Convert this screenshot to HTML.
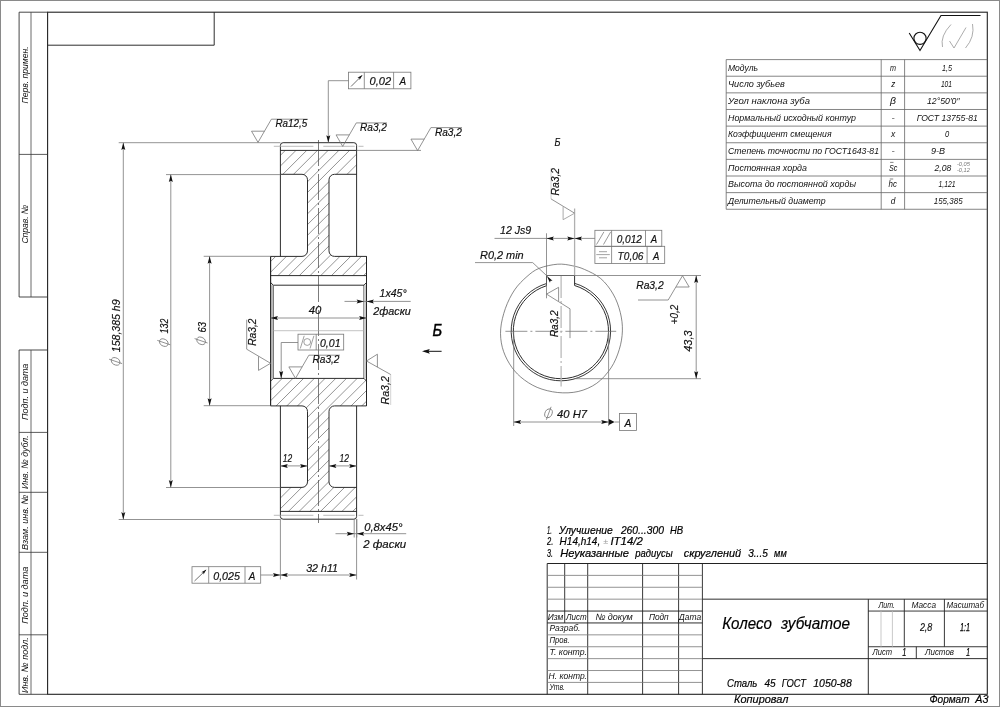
<!DOCTYPE html>
<html lang="ru">
<head>
<meta charset="utf-8">
<title>Колесо зубчатое</title>
<style>
html,body{margin:0;padding:0;background:#fff;}
body{width:1000px;height:707px;overflow:hidden;}
svg{display:block;will-change:transform;}
svg text{font-family:"Liberation Sans",sans-serif;}
</style>
</head>
<body>
<svg width="1000" height="707" viewBox="0 0 1000 707">
<rect x="0" y="0" width="1000" height="707" fill="#fff"/>
<rect x="0.5" y="0.5" width="999" height="706" fill="none" stroke="#8a8a8a" stroke-width="1"/>
<rect x="47.6" y="12.2" width="939.6999999999999" height="682.0999999999999" fill="none" stroke="#222" stroke-width="1.1"/>
<polyline points="214.2,12.2 214.2,45.2 47.6,45.2" fill="none" stroke="#222" stroke-width="0.95"/>
<polyline points="47.6,12.2 19.1,12.2 19.1,297 47.6,297" fill="none" stroke="#333" stroke-width="0.9"/>
<line x1="31.0" y1="12.2" x2="31.0" y2="297" stroke="#444" stroke-width="0.8" />
<line x1="19.1" y1="154.4" x2="47.6" y2="154.4" stroke="#333" stroke-width="0.8" />
<polyline points="47.6,350 19.1,350 19.1,694.3 47.6,694.3" fill="none" stroke="#333" stroke-width="0.9"/>
<line x1="31.0" y1="350" x2="31.0" y2="694.3" stroke="#444" stroke-width="0.8" />
<line x1="19.1" y1="432.4" x2="47.6" y2="432.4" stroke="#333" stroke-width="0.8" />
<line x1="19.1" y1="492.3" x2="47.6" y2="492.3" stroke="#333" stroke-width="0.8" />
<line x1="19.1" y1="552.3" x2="47.6" y2="552.3" stroke="#333" stroke-width="0.8" />
<line x1="19.1" y1="634.8" x2="47.6" y2="634.8" stroke="#333" stroke-width="0.8" />
<text x="0" y="0" font-size="9.5" fill="#111" font-style="italic" font-weight="normal" text-anchor="start" textLength="57" lengthAdjust="spacingAndGlyphs" transform="translate(27.6,103.4) rotate(-90)" >Перв. примен.</text>
<text x="0" y="0" font-size="9.5" fill="#111" font-style="italic" font-weight="normal" text-anchor="start" textLength="39" lengthAdjust="spacingAndGlyphs" transform="translate(27.6,243.6) rotate(-90)" >Справ. №</text>
<text x="0" y="0" font-size="9.5" fill="#111" font-style="italic" font-weight="normal" text-anchor="start" textLength="56.3" lengthAdjust="spacingAndGlyphs" transform="translate(27.6,420) rotate(-90)" >Подп. и дата</text>
<text x="0" y="0" font-size="9.5" fill="#111" font-style="italic" font-weight="normal" text-anchor="start" textLength="53.6" lengthAdjust="spacingAndGlyphs" transform="translate(27.6,489) rotate(-90)" >Инв. № дубл.</text>
<text x="0" y="0" font-size="9.5" fill="#111" font-style="italic" font-weight="normal" text-anchor="start" textLength="55.6" lengthAdjust="spacingAndGlyphs" transform="translate(27.6,550) rotate(-90)" >Взам. инв. №</text>
<text x="0" y="0" font-size="9.5" fill="#111" font-style="italic" font-weight="normal" text-anchor="start" textLength="57" lengthAdjust="spacingAndGlyphs" transform="translate(27.6,623.8) rotate(-90)" >Подп. и дата</text>
<text x="0" y="0" font-size="9.5" fill="#111" font-style="italic" font-weight="normal" text-anchor="start" textLength="55.7" lengthAdjust="spacingAndGlyphs" transform="translate(27.6,693) rotate(-90)" >Инв. № подл.</text>
<path d="M909.2,33 L920,50.5 L941,15.5 L980.5,15.5" fill="none" stroke="#111" stroke-width="1.1" />
<circle cx="920" cy="38.3" r="6.1" fill="none" stroke="#111" stroke-width="1.1"/>
<path d="M951,24.5 Q940,36 942.5,47" fill="none" stroke="#888" stroke-width="0.7" />
<path d="M972.5,24 Q975,37 965.5,48" fill="none" stroke="#888" stroke-width="0.7" />
<path d="M949.5,41 L954,48 L966,27.5" fill="none" stroke="#888" stroke-width="0.7" />
<line x1="726.2" y1="59.6" x2="987.3" y2="59.6" stroke="#666" stroke-width="0.8" />
<line x1="726.2" y1="76.23" x2="987.3" y2="76.23" stroke="#666" stroke-width="0.8" />
<line x1="726.2" y1="92.86" x2="987.3" y2="92.86" stroke="#666" stroke-width="0.8" />
<line x1="726.2" y1="109.49" x2="987.3" y2="109.49" stroke="#666" stroke-width="0.8" />
<line x1="726.2" y1="126.12" x2="987.3" y2="126.12" stroke="#666" stroke-width="0.8" />
<line x1="726.2" y1="142.75" x2="987.3" y2="142.75" stroke="#666" stroke-width="0.8" />
<line x1="726.2" y1="159.38" x2="987.3" y2="159.38" stroke="#666" stroke-width="0.8" />
<line x1="726.2" y1="176.01" x2="987.3" y2="176.01" stroke="#666" stroke-width="0.8" />
<line x1="726.2" y1="192.64" x2="987.3" y2="192.64" stroke="#666" stroke-width="0.8" />
<line x1="726.2" y1="209.27" x2="987.3" y2="209.27" stroke="#666" stroke-width="0.8" />
<line x1="726.2" y1="59.6" x2="726.2" y2="209.27" stroke="#666" stroke-width="0.8" />
<line x1="881.2" y1="59.6" x2="881.2" y2="209.27" stroke="#666" stroke-width="0.8" />
<line x1="904.6" y1="59.6" x2="904.6" y2="209.27" stroke="#666" stroke-width="0.8" />
<text x="728" y="70.8" font-size="9" fill="#111" font-style="italic" font-weight="normal" text-anchor="start" textLength="30" lengthAdjust="spacingAndGlyphs" >Модуль</text>
<text x="890" y="70.8" font-size="9" fill="#111" font-style="italic" font-weight="normal" text-anchor="start" textLength="6" lengthAdjust="spacingAndGlyphs" >m</text>
<text x="942" y="70.8" font-size="9" fill="#111" font-style="italic" font-weight="normal" text-anchor="start" textLength="10" lengthAdjust="spacingAndGlyphs" >1,5</text>
<text x="728" y="87.43" font-size="9" fill="#111" font-style="italic" font-weight="normal" text-anchor="start" textLength="56.8" lengthAdjust="spacingAndGlyphs" >Число зубьев</text>
<text x="891.3" y="87.43" font-size="9" fill="#111" font-style="italic" font-weight="normal" text-anchor="start" textLength="4" lengthAdjust="spacingAndGlyphs" >z</text>
<text x="940.9" y="87.43" font-size="9" fill="#111" font-style="italic" font-weight="normal" text-anchor="start" textLength="11.1" lengthAdjust="spacingAndGlyphs" >101</text>
<text x="728" y="104.06" font-size="9" fill="#111" font-style="italic" font-weight="normal" text-anchor="start" textLength="82" lengthAdjust="spacingAndGlyphs" >Угол наклона зуба</text>
<text x="890" y="104.06" font-size="9" fill="#111" font-style="italic" font-weight="normal" text-anchor="start" textLength="6" lengthAdjust="spacingAndGlyphs" >β</text>
<text x="927" y="104.06" font-size="9" fill="#111" font-style="italic" font-weight="normal" text-anchor="start" textLength="32.7" lengthAdjust="spacingAndGlyphs" >12°50′0′′</text>
<text x="728" y="120.69" font-size="9" fill="#111" font-style="italic" font-weight="normal" text-anchor="start" textLength="128" lengthAdjust="spacingAndGlyphs" >Нормальный исходный контур</text>
<text x="891.5" y="120.69" font-size="9" fill="#111" font-style="italic" font-weight="normal" text-anchor="start" textLength="3.2" lengthAdjust="spacingAndGlyphs" >-</text>
<text x="916.8" y="120.69" font-size="9" fill="#111" font-style="italic" font-weight="normal" text-anchor="start" textLength="60.9" lengthAdjust="spacingAndGlyphs" >ГОСТ 13755-81</text>
<text x="728" y="137.32" font-size="9" fill="#111" font-style="italic" font-weight="normal" text-anchor="start" textLength="103.5" lengthAdjust="spacingAndGlyphs" >Коэффициент смещения</text>
<text x="891" y="137.32" font-size="9" fill="#111" font-style="italic" font-weight="normal" text-anchor="start" textLength="4.3" lengthAdjust="spacingAndGlyphs" >x</text>
<text x="945" y="137.32" font-size="9" fill="#111" font-style="italic" font-weight="normal" text-anchor="start" textLength="4.2" lengthAdjust="spacingAndGlyphs" >0</text>
<text x="728" y="153.95" font-size="9" fill="#111" font-style="italic" font-weight="normal" text-anchor="start" textLength="151" lengthAdjust="spacingAndGlyphs" >Степень точности по ГОСТ1643-81</text>
<text x="891.5" y="153.95" font-size="9" fill="#111" font-style="italic" font-weight="normal" text-anchor="start" textLength="3.2" lengthAdjust="spacingAndGlyphs" >-</text>
<text x="930.9" y="153.95" font-size="9" fill="#111" font-style="italic" font-weight="normal" text-anchor="start" textLength="14.1" lengthAdjust="spacingAndGlyphs" >9-B</text>
<text x="728" y="170.58" font-size="9" fill="#111" font-style="italic" font-weight="normal" text-anchor="start" textLength="79" lengthAdjust="spacingAndGlyphs" >Постоянная хорда</text>
<text x="888.9" y="170.58" font-size="9" fill="#111" font-style="italic" font-weight="normal" text-anchor="start" textLength="8.4" lengthAdjust="spacingAndGlyphs" >Sc</text>
<line x1="890.1" y1="162.38000000000002" x2="893.5" y2="162.38000000000002" stroke="#333" stroke-width="0.6" />
<text x="934.6" y="170.58" font-size="9" fill="#111" font-style="italic" font-weight="normal" text-anchor="start" textLength="16.7" lengthAdjust="spacingAndGlyphs" >2,08</text>
<text x="728" y="187.21" font-size="9" fill="#111" font-style="italic" font-weight="normal" text-anchor="start" textLength="128" lengthAdjust="spacingAndGlyphs" >Высота до постоянной хорды</text>
<text x="888.6" y="187.21" font-size="9" fill="#111" font-style="italic" font-weight="normal" text-anchor="start" textLength="8.4" lengthAdjust="spacingAndGlyphs" >hc</text>
<line x1="889.8000000000001" y1="179.01000000000002" x2="893.2" y2="179.01000000000002" stroke="#333" stroke-width="0.6" />
<text x="938.5" y="187.21" font-size="9" fill="#111" font-style="italic" font-weight="normal" text-anchor="start" textLength="17.1" lengthAdjust="spacingAndGlyphs" >1,121</text>
<text x="728" y="203.84" font-size="9" fill="#111" font-style="italic" font-weight="normal" text-anchor="start" textLength="97.6" lengthAdjust="spacingAndGlyphs" >Делительный диаметр</text>
<text x="890.8" y="203.84" font-size="9" fill="#111" font-style="italic" font-weight="normal" text-anchor="start" textLength="4.6" lengthAdjust="spacingAndGlyphs" >d</text>
<text x="933.7" y="203.84" font-size="9" fill="#111" font-style="italic" font-weight="normal" text-anchor="start" textLength="28.9" lengthAdjust="spacingAndGlyphs" >155,385</text>
<text x="956.9" y="165.6" font-size="4.6" fill="#777" font-style="italic" font-weight="normal" text-anchor="start" textLength="13" lengthAdjust="spacingAndGlyphs" >-0,05</text>
<text x="956.9" y="172.4" font-size="4.6" fill="#777" font-style="italic" font-weight="normal" text-anchor="start" textLength="13" lengthAdjust="spacingAndGlyphs" >-0,12</text>
<defs>
<clipPath id="hc"><path d="M280.4,150.4 L356.6,150.4 L356.6,174.3 L334.5,174.3 A5.5,5.5 0 0 0 329.0,179.8 L329.0,250.89999999999998 A5.5,5.5 0 0 0 334.5,256.4 L366.5,256.4 L366.5,275.6 L270.6,275.6 L270.6,256.4 L302.0,256.4 A5.5,5.5 0 0 0 307.5,250.89999999999998 L307.5,179.8 A5.5,5.5 0 0 0 302.0,174.3 L280.4,174.3 Z M270.6,381.0 L273.3,378.4 L364.0,378.4 L366.5,381.0 L366.5,405.9 L334.5,405.9 A5.5,5.5 0 0 0 329.0,411.4 L329.0,481.9 A5.5,5.5 0 0 0 334.5,487.4 L356.6,487.4 L356.6,511.4 L280.4,511.4 L280.4,487.4 L302.0,487.4 A5.5,5.5 0 0 0 307.5,481.9 L307.5,411.4 A5.5,5.5 0 0 0 302.0,405.9 L270.6,405.9 Z"/></clipPath>
</defs>
<g clip-path="url(#hc)">
<line x1="252.14" y1="130" x2="-147.86" y2="530" stroke="#666" stroke-width="0.7" />
<line x1="262.85" y1="130" x2="-137.15" y2="530" stroke="#666" stroke-width="0.7" />
<line x1="273.56" y1="130" x2="-126.44" y2="530" stroke="#666" stroke-width="0.7" />
<line x1="284.27" y1="130" x2="-115.73" y2="530" stroke="#666" stroke-width="0.7" />
<line x1="294.98" y1="130" x2="-105.02" y2="530" stroke="#666" stroke-width="0.7" />
<line x1="305.69" y1="130" x2="-94.31" y2="530" stroke="#666" stroke-width="0.7" />
<line x1="316.4" y1="130" x2="-83.6" y2="530" stroke="#666" stroke-width="0.7" />
<line x1="327.11" y1="130" x2="-72.89" y2="530" stroke="#666" stroke-width="0.7" />
<line x1="337.82" y1="130" x2="-62.18" y2="530" stroke="#666" stroke-width="0.7" />
<line x1="348.53" y1="130" x2="-51.47" y2="530" stroke="#666" stroke-width="0.7" />
<line x1="359.24" y1="130" x2="-40.76" y2="530" stroke="#666" stroke-width="0.7" />
<line x1="369.95" y1="130" x2="-30.05" y2="530" stroke="#666" stroke-width="0.7" />
<line x1="380.66" y1="130" x2="-19.34" y2="530" stroke="#666" stroke-width="0.7" />
<line x1="391.37" y1="130" x2="-8.63" y2="530" stroke="#666" stroke-width="0.7" />
<line x1="402.08" y1="130" x2="2.08" y2="530" stroke="#666" stroke-width="0.7" />
<line x1="412.79" y1="130" x2="12.79" y2="530" stroke="#666" stroke-width="0.7" />
<line x1="423.5" y1="130" x2="23.5" y2="530" stroke="#666" stroke-width="0.7" />
<line x1="434.21" y1="130" x2="34.21" y2="530" stroke="#666" stroke-width="0.7" />
<line x1="444.92" y1="130" x2="44.92" y2="530" stroke="#666" stroke-width="0.7" />
<line x1="455.63" y1="130" x2="55.63" y2="530" stroke="#666" stroke-width="0.7" />
<line x1="466.34" y1="130" x2="66.34" y2="530" stroke="#666" stroke-width="0.7" />
<line x1="477.05" y1="130" x2="77.05" y2="530" stroke="#666" stroke-width="0.7" />
<line x1="487.76" y1="130" x2="87.76" y2="530" stroke="#666" stroke-width="0.7" />
<line x1="498.47" y1="130" x2="98.47" y2="530" stroke="#666" stroke-width="0.7" />
<line x1="509.18" y1="130" x2="109.18" y2="530" stroke="#666" stroke-width="0.7" />
<line x1="519.89" y1="130" x2="119.89" y2="530" stroke="#666" stroke-width="0.7" />
<line x1="530.6" y1="130" x2="130.6" y2="530" stroke="#666" stroke-width="0.7" />
<line x1="541.31" y1="130" x2="141.31" y2="530" stroke="#666" stroke-width="0.7" />
<line x1="552.02" y1="130" x2="152.02" y2="530" stroke="#666" stroke-width="0.7" />
<line x1="562.73" y1="130" x2="162.73" y2="530" stroke="#666" stroke-width="0.7" />
<line x1="573.44" y1="130" x2="173.44" y2="530" stroke="#666" stroke-width="0.7" />
<line x1="584.15" y1="130" x2="184.15" y2="530" stroke="#666" stroke-width="0.7" />
<line x1="594.86" y1="130" x2="194.86" y2="530" stroke="#666" stroke-width="0.7" />
<line x1="605.57" y1="130" x2="205.57" y2="530" stroke="#666" stroke-width="0.7" />
<line x1="616.28" y1="130" x2="216.28" y2="530" stroke="#666" stroke-width="0.7" />
<line x1="626.99" y1="130" x2="226.99" y2="530" stroke="#666" stroke-width="0.7" />
<line x1="637.7" y1="130" x2="237.7" y2="530" stroke="#666" stroke-width="0.7" />
<line x1="648.41" y1="130" x2="248.41" y2="530" stroke="#666" stroke-width="0.7" />
<line x1="659.12" y1="130" x2="259.12" y2="530" stroke="#666" stroke-width="0.7" />
<line x1="669.83" y1="130" x2="269.83" y2="530" stroke="#666" stroke-width="0.7" />
<line x1="680.54" y1="130" x2="280.54" y2="530" stroke="#666" stroke-width="0.7" />
<line x1="691.25" y1="130" x2="291.25" y2="530" stroke="#666" stroke-width="0.7" />
<line x1="701.96" y1="130" x2="301.96" y2="530" stroke="#666" stroke-width="0.7" />
<line x1="712.67" y1="130" x2="312.67" y2="530" stroke="#666" stroke-width="0.7" />
<line x1="723.38" y1="130" x2="323.38" y2="530" stroke="#666" stroke-width="0.7" />
<line x1="734.09" y1="130" x2="334.09" y2="530" stroke="#666" stroke-width="0.7" />
<line x1="744.8" y1="130" x2="344.8" y2="530" stroke="#666" stroke-width="0.7" />
<line x1="755.51" y1="130" x2="355.51" y2="530" stroke="#666" stroke-width="0.7" />
<line x1="766.22" y1="130" x2="366.22" y2="530" stroke="#666" stroke-width="0.7" />
<line x1="776.93" y1="130" x2="376.93" y2="530" stroke="#666" stroke-width="0.7" />
<line x1="787.64" y1="130" x2="387.64" y2="530" stroke="#666" stroke-width="0.7" />
<line x1="798.35" y1="130" x2="398.35" y2="530" stroke="#666" stroke-width="0.7" />
<line x1="809.06" y1="130" x2="409.06" y2="530" stroke="#666" stroke-width="0.7" />
<line x1="819.77" y1="130" x2="419.77" y2="530" stroke="#666" stroke-width="0.7" />
<line x1="830.48" y1="130" x2="430.48" y2="530" stroke="#666" stroke-width="0.7" />
<line x1="841.19" y1="130" x2="441.19" y2="530" stroke="#666" stroke-width="0.7" />
<line x1="851.9" y1="130" x2="451.9" y2="530" stroke="#666" stroke-width="0.7" />
<line x1="862.61" y1="130" x2="462.61" y2="530" stroke="#666" stroke-width="0.7" />
</g>
<path d="M280.4,256.4 L280.4,145.39999999999998 A2.7,2.7 0 0 1 283.09999999999997,142.7 L353.90000000000003,142.7 A2.7,2.7 0 0 1 356.6,145.39999999999998 L356.6,256.4" fill="none" stroke="#222" stroke-width="0.95" />
<path d="M280.4,405.9 L280.4,516.5 A2.7,2.7 0 0 0 283.09999999999997,519.2 L353.90000000000003,519.2 A2.7,2.7 0 0 0 356.6,516.5 L356.6,405.9" fill="none" stroke="#222" stroke-width="0.95" />
<line x1="280.4" y1="150.4" x2="356.6" y2="150.4" stroke="#222" stroke-width="0.95" />
<line x1="280.4" y1="511.4" x2="356.6" y2="511.4" stroke="#222" stroke-width="0.95" />
<path d="M280.4,174.3 L302.0,174.3 A5.5,5.5 0 0 1 307.5,179.8 L307.5,250.89999999999998 A5.5,5.5 0 0 1 302.0,256.4 L270.6,256.4" fill="none" stroke="#222" stroke-width="0.95" />
<path d="M356.6,174.3 L334.5,174.3 A5.5,5.5 0 0 0 329.0,179.8 L329.0,250.89999999999998 A5.5,5.5 0 0 0 334.5,256.4 L366.5,256.4" fill="none" stroke="#222" stroke-width="0.95" />
<path d="M280.4,487.4 L302.0,487.4 A5.5,5.5 0 0 0 307.5,481.9 L307.5,411.4 A5.5,5.5 0 0 0 302.0,405.9 L270.6,405.9" fill="none" stroke="#222" stroke-width="0.95" />
<path d="M356.6,487.4 L334.5,487.4 A5.5,5.5 0 0 1 329.0,481.9 L329.0,411.4 A5.5,5.5 0 0 1 334.5,405.9 L366.5,405.9" fill="none" stroke="#222" stroke-width="0.95" />
<line x1="270.6" y1="256.4" x2="270.6" y2="405.9" stroke="#222" stroke-width="0.95" />
<line x1="366.5" y1="256.4" x2="366.5" y2="405.9" stroke="#222" stroke-width="0.95" />
<line x1="270.6" y1="275.6" x2="366.5" y2="275.6" stroke="#222" stroke-width="0.95" />
<path d="M270.6,282.5 L273.3,285.2 L364.0,285.2 L366.5,282.5" fill="none" stroke="#222" stroke-width="0.95" />
<path d="M270.6,381.09999999999997 L273.3,378.4 L364.0,378.4 L366.5,381.09999999999997" fill="none" stroke="#222" stroke-width="0.95" />
<line x1="273.3" y1="285.2" x2="273.3" y2="378.4" stroke="#222" stroke-width="0.9" />
<line x1="364.0" y1="285.2" x2="364.0" y2="378.4" stroke="#222" stroke-width="0.9" />
<rect x="270.6" y="285.2" width="2.7" height="93.19999999999999" fill="#bbb"/>
<rect x="364.0" y="285.2" width="2.5" height="93.19999999999999" fill="#ccc"/>
<line x1="270.6" y1="256.4" x2="270.6" y2="405.9" stroke="#222" stroke-width="0.95" />
<line x1="366.5" y1="256.4" x2="366.5" y2="405.9" stroke="#222" stroke-width="0.95" />
<line x1="273.8" y1="146.3" x2="313.4" y2="146.3" stroke="#aaa" stroke-width="0.8" />
<line x1="323.3" y1="146.3" x2="354.7" y2="146.3" stroke="#aaa" stroke-width="0.8" />
<line x1="358.5" y1="146.3" x2="363.5" y2="146.3" stroke="#aaa" stroke-width="0.8" />
<line x1="273.8" y1="515.3" x2="313.4" y2="515.3" stroke="#aaa" stroke-width="0.8" />
<line x1="323.3" y1="515.3" x2="354.7" y2="515.3" stroke="#aaa" stroke-width="0.8" />
<line x1="358.5" y1="515.3" x2="363.5" y2="515.3" stroke="#aaa" stroke-width="0.8" />
<line x1="318.5" y1="140" x2="318.5" y2="523" stroke="#444" stroke-width="0.7" stroke-dasharray="26 3 2 3"/>
<line x1="273.3" y1="330.7" x2="364.0" y2="330.7" stroke="#aaa" stroke-width="0.7" />
<line x1="118.7" y1="142.7" x2="280.4" y2="142.7" stroke="#777" stroke-width="0.8" />
<line x1="118.7" y1="519.5" x2="280.4" y2="519.5" stroke="#777" stroke-width="0.8" />
<line x1="123.3" y1="142.7" x2="123.3" y2="519.5" stroke="#777" stroke-width="0.8" />
<polygon points="123.30,142.70 125.30,150.10 123.30,148.80 121.30,150.10" fill="#111"/>
<polygon points="123.30,519.50 121.30,512.10 123.30,513.40 125.30,512.10" fill="#111"/>
<line x1="166" y1="174.6" x2="280.4" y2="174.6" stroke="#777" stroke-width="0.8" />
<line x1="166" y1="487.5" x2="280.4" y2="487.5" stroke="#777" stroke-width="0.8" />
<line x1="170.8" y1="174.6" x2="170.8" y2="487.5" stroke="#777" stroke-width="0.8" />
<polygon points="170.80,174.60 172.80,182.00 170.80,180.70 168.80,182.00" fill="#111"/>
<polygon points="170.80,487.50 168.80,480.10 170.80,481.40 172.80,480.10" fill="#111"/>
<line x1="203.7" y1="256.3" x2="270.6" y2="256.3" stroke="#777" stroke-width="0.8" />
<line x1="203.7" y1="405.7" x2="270.6" y2="405.7" stroke="#777" stroke-width="0.8" />
<line x1="209.6" y1="256.3" x2="209.6" y2="405.7" stroke="#777" stroke-width="0.8" />
<polygon points="209.60,256.30 211.60,263.70 209.60,262.40 207.60,263.70" fill="#111"/>
<polygon points="209.60,405.70 207.60,398.30 209.60,399.60 211.60,398.30" fill="#111"/>
<text x="0" y="0" font-size="11.2" fill="#111" font-style="italic" font-weight="normal" text-anchor="start" textLength="52.8" lengthAdjust="spacingAndGlyphs" transform="translate(119.9,352.2) rotate(-90)"  stroke="#111" stroke-width="0.18">158,385 h9</text>
<g transform="translate(115.6,361.4) rotate(-90)"><ellipse cx="0" cy="0" rx="3.655" ry="4.3" fill="none" stroke="#777" stroke-width="0.8" transform="skewX(-15)"/><line x1="-2.2" y1="6.5" x2="2.2" y2="-6.5" stroke="#777" stroke-width="0.8"/></g>
<text x="0" y="0" font-size="11.2" fill="#111" font-style="italic" font-weight="normal" text-anchor="start" textLength="14.7" lengthAdjust="spacingAndGlyphs" transform="translate(168,333.4) rotate(-90)"  stroke="#111" stroke-width="0.18">132</text>
<g transform="translate(163.8,342.6) rotate(-90)"><ellipse cx="0" cy="0" rx="3.655" ry="4.3" fill="none" stroke="#777" stroke-width="0.8" transform="skewX(-15)"/><line x1="-2.2" y1="6.5" x2="2.2" y2="-6.5" stroke="#777" stroke-width="0.8"/></g>
<text x="0" y="0" font-size="11.2" fill="#111" font-style="italic" font-weight="normal" text-anchor="start" textLength="10.5" lengthAdjust="spacingAndGlyphs" transform="translate(206.1,332.5) rotate(-90)"  stroke="#111" stroke-width="0.18">63</text>
<g transform="translate(201.1,340.8) rotate(-90)"><ellipse cx="0" cy="0" rx="3.655" ry="4.3" fill="none" stroke="#777" stroke-width="0.8" transform="skewX(-15)"/><line x1="-2.2" y1="6.5" x2="2.2" y2="-6.5" stroke="#777" stroke-width="0.8"/></g>
<line x1="270.6" y1="318" x2="366.5" y2="318" stroke="#777" stroke-width="0.8" />
<polygon points="270.60,318.00 278.00,316.00 276.70,318.00 278.00,320.00" fill="#111"/>
<polygon points="366.50,318.00 359.10,320.00 360.40,318.00 359.10,316.00" fill="#111"/>
<text x="308.7" y="314.3" font-size="11.3" fill="#111" font-style="italic" font-weight="normal" text-anchor="start" textLength="12.6" lengthAdjust="spacingAndGlyphs"  stroke="#111" stroke-width="0.18">40</text>
<line x1="344.5" y1="301.4" x2="410.7" y2="301.4" stroke="#777" stroke-width="0.8" />
<polygon points="364.00,301.40 356.60,303.40 357.90,301.40 356.60,299.40" fill="#111"/>
<polygon points="366.50,301.40 373.90,299.40 372.60,301.40 373.90,303.40" fill="#111"/>
<text x="379.6" y="297.2" font-size="11.2" fill="#111" font-style="italic" font-weight="normal" text-anchor="start" textLength="27" lengthAdjust="spacingAndGlyphs"  stroke="#111" stroke-width="0.18">1x45°</text>
<text x="373.3" y="314.5" font-size="11.2" fill="#111" font-style="italic" font-weight="normal" text-anchor="start" textLength="37.4" lengthAdjust="spacingAndGlyphs"  stroke="#111" stroke-width="0.18">2фаски</text>
<line x1="280.4" y1="465.9" x2="307.5" y2="465.9" stroke="#777" stroke-width="0.8" />
<polygon points="280.40,465.90 287.80,463.90 286.50,465.90 287.80,467.90" fill="#111"/>
<polygon points="307.50,465.90 300.10,467.90 301.40,465.90 300.10,463.90" fill="#111"/>
<line x1="329.0" y1="465.9" x2="356.6" y2="465.9" stroke="#777" stroke-width="0.8" />
<polygon points="329.00,465.90 336.40,463.90 335.10,465.90 336.40,467.90" fill="#111"/>
<polygon points="356.60,465.90 349.20,467.90 350.50,465.90 349.20,463.90" fill="#111"/>
<text x="282.7" y="462" font-size="11.2" fill="#111" font-style="italic" font-weight="normal" text-anchor="start" textLength="9.4" lengthAdjust="spacingAndGlyphs"  stroke="#111" stroke-width="0.18">12</text>
<text x="339.6" y="462" font-size="11.2" fill="#111" font-style="italic" font-weight="normal" text-anchor="start" textLength="9.4" lengthAdjust="spacingAndGlyphs"  stroke="#111" stroke-width="0.18">12</text>
<line x1="354.2" y1="519" x2="354.2" y2="537.5" stroke="#777" stroke-width="0.8" />
<line x1="356.8" y1="519" x2="356.8" y2="537.5" stroke="#777" stroke-width="0.8" />
<line x1="335.5" y1="533.7" x2="406.2" y2="533.7" stroke="#777" stroke-width="0.8" />
<polygon points="354.20,533.70 346.80,535.70 348.10,533.70 346.80,531.70" fill="#111"/>
<polygon points="356.80,533.70 364.20,531.70 362.90,533.70 364.20,535.70" fill="#111"/>
<text x="364.2" y="530.5" font-size="11.2" fill="#111" font-style="italic" font-weight="normal" text-anchor="start" textLength="38.3" lengthAdjust="spacingAndGlyphs"  stroke="#111" stroke-width="0.18">0,8x45°</text>
<text x="363.2" y="547.5" font-size="11.2" fill="#111" font-style="italic" font-weight="normal" text-anchor="start" textLength="43" lengthAdjust="spacingAndGlyphs"  stroke="#111" stroke-width="0.18">2 фаски</text>
<line x1="280.4" y1="519.2" x2="280.4" y2="579.5" stroke="#777" stroke-width="0.8" />
<line x1="356.6" y1="519.2" x2="356.6" y2="579.5" stroke="#777" stroke-width="0.8" />
<line x1="260.7" y1="575" x2="356.6" y2="575" stroke="#777" stroke-width="0.8" />
<polygon points="280.40,575.00 273.00,577.00 274.30,575.00 273.00,573.00" fill="#111"/>
<polygon points="280.40,575.00 287.80,573.00 286.50,575.00 287.80,577.00" fill="#111"/>
<polygon points="356.60,575.00 349.20,577.00 350.50,575.00 349.20,573.00" fill="#111"/>
<text x="306.2" y="571.7" font-size="11.2" fill="#111" font-style="italic" font-weight="normal" text-anchor="start" textLength="31.8" lengthAdjust="spacingAndGlyphs"  stroke="#111" stroke-width="0.18">32 h11</text>
<rect x="348.5" y="72.2" width="62.4" height="16.6" fill="none" stroke="#777" stroke-width="0.8"/>
<line x1="364.3" y1="72.2" x2="364.3" y2="88.8" stroke="#777" stroke-width="0.8" />
<line x1="393.6" y1="72.2" x2="393.6" y2="88.8" stroke="#777" stroke-width="0.8" />
<line x1="351" y1="86.5" x2="362" y2="75.5" stroke="#333" stroke-width="0.7" />
<polygon points="362.40,75.10 359.64,80.12 359.43,78.07 357.38,77.86" fill="#111"/>
<text x="369.6" y="85.2" font-size="11.2" fill="#111" font-style="italic" font-weight="normal" text-anchor="start" textLength="21.6" lengthAdjust="spacingAndGlyphs"  stroke="#111" stroke-width="0.18">0,02</text>
<text x="399.6" y="85.2" font-size="11.2" fill="#111" font-style="italic" font-weight="normal" text-anchor="start" textLength="6.6" lengthAdjust="spacingAndGlyphs"  stroke="#111" stroke-width="0.18">A</text>
<polyline points="348.5,80.7 328.3,80.7 328.3,142.5" fill="none" stroke="#777" stroke-width="0.8"/>
<polygon points="328.30,142.60 326.30,135.20 328.30,136.50 330.30,135.20" fill="#111"/>
<rect x="192" y="566.7" width="68.7" height="16.5" fill="none" stroke="#777" stroke-width="0.8"/>
<line x1="208.7" y1="566.7" x2="208.7" y2="583.2" stroke="#777" stroke-width="0.8" />
<line x1="245" y1="566.7" x2="245" y2="583.2" stroke="#777" stroke-width="0.8" />
<line x1="194.5" y1="581" x2="206" y2="570" stroke="#333" stroke-width="0.7" />
<polygon points="206.40,569.60 203.53,574.56 203.36,572.50 201.32,572.25" fill="#111"/>
<text x="213.2" y="579.5" font-size="11.2" fill="#111" font-style="italic" font-weight="normal" text-anchor="start" textLength="26.8" lengthAdjust="spacingAndGlyphs"  stroke="#111" stroke-width="0.18">0,025</text>
<text x="248.7" y="579.5" font-size="11.2" fill="#111" font-style="italic" font-weight="normal" text-anchor="start" textLength="6.6" lengthAdjust="spacingAndGlyphs"  stroke="#111" stroke-width="0.18">A</text>
<rect x="298" y="334.2" width="45.7" height="15.8" fill="none" stroke="#777" stroke-width="0.8"/>
<line x1="316.2" y1="334.2" x2="316.2" y2="350" stroke="#777" stroke-width="0.8" />
<g stroke="#777" stroke-width="0.7" fill="none"><ellipse cx="307.2" cy="342" rx="3.4" ry="3.4"/><line x1="300.3" y1="348.5" x2="304.2" y2="335.8"/><line x1="310" y1="348.5" x2="313.9" y2="335.8"/></g>
<text x="320" y="346.7" font-size="11.2" fill="#111" font-style="italic" font-weight="normal" text-anchor="start" textLength="20.5" lengthAdjust="spacingAndGlyphs"  stroke="#111" stroke-width="0.18">0,01</text>
<polyline points="298,342.5 281.2,342.5 281.2,378.4" fill="none" stroke="#777" stroke-width="0.8"/>
<polygon points="281.20,378.40 279.20,371.00 281.20,372.30 283.20,371.00" fill="#111"/>
<path d="M251.53,131.20 L258,142.4 L271.39,119.20 L307.7,119.20 M251.53,131.20 L264.47,131.20" fill="none" stroke="#777" stroke-width="0.8" />
<text x="275.5" y="127.2" font-size="11.2" fill="#111" font-style="italic" font-weight="normal" text-anchor="start" textLength="31.7" lengthAdjust="spacingAndGlyphs"  stroke="#111" stroke-width="0.18">Ra12,5</text>
<path d="M336.06,134.90 L342.7,146.4 L356.27,122.90 L386.9,122.90 M336.06,134.90 L349.34,134.90" fill="none" stroke="#777" stroke-width="0.8" />
<text x="360" y="131.3" font-size="11.2" fill="#111" font-style="italic" font-weight="normal" text-anchor="start" textLength="26.9" lengthAdjust="spacingAndGlyphs"  stroke="#111" stroke-width="0.18">Ra3,2</text>
<line x1="356.6" y1="150.4" x2="421" y2="150.4" stroke="#777" stroke-width="0.8" />
<path d="M410.96,139.10 L417.6,150.6 L430.88,127.60 L462,127.60 M410.96,139.10 L424.24,139.10" fill="none" stroke="#777" stroke-width="0.8" />
<text x="434.9" y="135.6" font-size="11.2" fill="#111" font-style="italic" font-weight="normal" text-anchor="start" textLength="27.1" lengthAdjust="spacingAndGlyphs"  stroke="#111" stroke-width="0.18">Ra3,2</text>
<path d="M288.86,366.90 L295.5,378.4 L308.89,355.20 L340,355.20 M288.86,366.90 L302.14,366.90" fill="none" stroke="#777" stroke-width="0.8" />
<text x="312.5" y="363" font-size="11.2" fill="#111" font-style="italic" font-weight="normal" text-anchor="start" textLength="27" lengthAdjust="spacingAndGlyphs"  stroke="#111" stroke-width="0.18">Ra3,2</text>
<path d="M246.7,319.7 L246.7,349.2 L270.6,363.3 L258.5,370.4 L258.5,356.4" fill="none" stroke="#777" stroke-width="0.8" />
<text x="0" y="0" font-size="11.2" fill="#111" font-style="italic" font-weight="normal" text-anchor="start" textLength="27.2" lengthAdjust="spacingAndGlyphs" transform="translate(255.7,345.8) rotate(-90)"  stroke="#111" stroke-width="0.18">Ra3,2</text>
<line x1="390.7" y1="405" x2="390.7" y2="374.5" stroke="#c8c8c8" stroke-width="0.8" />
<path d="M390.7,374.5 L366.5,361 L377.4,354.2 L377.4,367.2" fill="none" stroke="#777" stroke-width="0.8" />
<text x="0" y="0" font-size="11.2" fill="#111" font-style="italic" font-weight="normal" text-anchor="start" textLength="28.3" lengthAdjust="spacingAndGlyphs" transform="translate(389.2,404.5) rotate(-90)"  stroke="#111" stroke-width="0.18">Ra3,2</text>
<text x="432.6" y="335.8" font-size="16" fill="#000" font-style="italic" font-weight="normal" text-anchor="start" textLength="9.6" lengthAdjust="spacingAndGlyphs" stroke="#000" stroke-width="0.45">Б</text>
<line x1="424" y1="351.3" x2="441.6" y2="351.3" stroke="#111" stroke-width="1.0" />
<polygon points="422.00,351.30 429.80,348.90 428.50,351.30 429.80,353.70" fill="#111"/>
<text x="554.5" y="145.5" font-size="11.2" fill="#111" font-style="italic" font-weight="normal" text-anchor="start" textLength="6" lengthAdjust="spacingAndGlyphs"  stroke="#111" stroke-width="0.18">Б</text>
<path d="M557.7,264.2 C552.2,264.6 544.3,266.2 539.2,268.3 C534.1,270.4 531.1,272.9 527,276.5 C522.9,280.1 518.2,284.6 514.6,289.9 C511.0,295.2 507.7,301.9 505.4,308.4 C503.1,314.9 501.2,322.4 500.7,328.9 C500.2,335.4 500.8,341.5 502.3,347.3 C503.8,353.1 506.4,358.8 509.5,363.8 C512.6,368.8 516.2,373.2 520.8,377.1 C525.4,381.0 531.1,384.8 537.2,387.4 C543.4,390.0 550.9,391.8 557.7,392.5 C564.5,393.2 571.7,393.0 578.2,391.5 C584.7,390.0 591.2,387.2 596.7,383.3 C602.2,379.4 607.2,373.5 611,367.9 C614.8,362.2 617.4,355.6 619.3,349.4 C621.2,343.2 622.2,337.0 622.4,330.9 C622.6,324.8 621.8,318.6 620.3,312.5 C618.8,306.4 616.4,299.6 613.1,294 C609.9,288.4 605.6,282.7 600.8,278.6 C596.0,274.5 589.2,271.5 584.4,269.4 C579.6,267.2 576.5,266.6 572.1,265.7 C567.7,264.8 563.2,263.8 557.7,264.2 Z" fill="none" stroke="#555" stroke-width="0.7" />
<path d="M574.6,283.33 A49.7,49.7 0 1 1 546.5,283.53" fill="none" stroke="#222" stroke-width="0.9" />
<path d="M574.6,285.51 A47.6,47.6 0 1 1 546.5,285.73" fill="none" stroke="#222" stroke-width="0.95" />
<path d="M546.5,285.73 L546.5,275.5 L574.6,275.5 L574.6,285.51" fill="none" stroke="#222" stroke-width="0.95" />
<line x1="505.4" y1="331.3" x2="616.2" y2="331.3" stroke="#666" stroke-width="0.7" stroke-dasharray="22 3 2 3"/>
<line x1="561.1" y1="276" x2="561.1" y2="386.5" stroke="#b5b5b5" stroke-width="1.2" stroke-dasharray="22 3 2 3"/>
<line x1="546.5" y1="233.3" x2="546.5" y2="298.3" stroke="#666" stroke-width="0.7" />
<line x1="574.6" y1="208.5" x2="574.6" y2="275.5" stroke="#b0b0b0" stroke-width="1.3" />
<line x1="494.5" y1="238.4" x2="594.9" y2="238.4" stroke="#777" stroke-width="0.8" />
<polygon points="546.50,238.40 553.90,236.40 552.60,238.40 553.90,240.40" fill="#111"/>
<polygon points="574.60,238.40 567.20,240.40 568.50,238.40 567.20,236.40" fill="#111"/>
<polygon points="574.60,238.40 582.00,236.40 580.70,238.40 582.00,240.40" fill="#111"/>
<text x="500" y="234.2" font-size="11.2" fill="#111" font-style="italic" font-weight="normal" text-anchor="start" textLength="31.2" lengthAdjust="spacingAndGlyphs"  stroke="#111" stroke-width="0.18">12 Js9</text>
<rect x="594.9" y="230.3" width="66.9" height="16.0" fill="none" stroke="#777" stroke-width="0.8"/>
<line x1="611.6" y1="230.3" x2="611.6" y2="246.3" stroke="#777" stroke-width="0.8" />
<line x1="645.5" y1="230.3" x2="645.5" y2="246.3" stroke="#777" stroke-width="0.8" />
<rect x="594.9" y="246.3" width="69.8" height="17.1" fill="none" stroke="#777" stroke-width="0.8"/>
<line x1="611.6" y1="246.3" x2="611.6" y2="263.4" stroke="#777" stroke-width="0.8" />
<line x1="647.1" y1="246.3" x2="647.1" y2="263.4" stroke="#777" stroke-width="0.8" />
<g stroke="#777" stroke-width="0.75"><line x1="596.5" y1="244.5" x2="603.9" y2="231.9"/><line x1="603.5" y1="244.5" x2="610.7" y2="231.9"/></g><g stroke="#999" stroke-width="0.9"><line x1="599" y1="251.7" x2="607" y2="251.7"/><line x1="596.3" y1="254.6" x2="609.8" y2="254.6"/><line x1="599" y1="257.8" x2="607" y2="257.8"/></g>
<text x="616.7" y="242.6" font-size="11.2" fill="#111" font-style="italic" font-weight="normal" text-anchor="start" textLength="25.2" lengthAdjust="spacingAndGlyphs"  stroke="#111" stroke-width="0.18">0,012</text>
<text x="650.7" y="242.6" font-size="11.2" fill="#111" font-style="italic" font-weight="normal" text-anchor="start" textLength="6.4" lengthAdjust="spacingAndGlyphs"  stroke="#111" stroke-width="0.18">A</text>
<text x="617.6" y="259.5" font-size="11.2" fill="#111" font-style="italic" font-weight="normal" text-anchor="start" textLength="25.9" lengthAdjust="spacingAndGlyphs"  stroke="#111" stroke-width="0.18">T0,06</text>
<text x="653" y="259.5" font-size="11.2" fill="#111" font-style="italic" font-weight="normal" text-anchor="start" textLength="6.4" lengthAdjust="spacingAndGlyphs"  stroke="#111" stroke-width="0.18">A</text>
<text x="480" y="259.2" font-size="11.2" fill="#111" font-style="italic" font-weight="normal" text-anchor="start" textLength="43.7" lengthAdjust="spacingAndGlyphs"  stroke="#111" stroke-width="0.18">R0,2 min</text>
<polyline points="475,262.6 532.7,262.6 546.5,275.5" fill="none" stroke="#777" stroke-width="0.8"/>
<polygon points="546.70,275.80 552.53,280.79 550.47,280.73 549.98,282.73" fill="#111"/>
<line x1="551" y1="168.4" x2="551" y2="198.9" stroke="#c4c4c4" stroke-width="0.8" />
<path d="M551,198.9 L574.6,213.2" fill="none" stroke="#777" stroke-width="0.8" />
<path d="M574.6,213.2 L563.1,219.7 L563.1,206.5" fill="none" stroke="#aaa" stroke-width="1.0" />
<text x="0" y="0" font-size="11.2" fill="#111" font-style="italic" font-weight="normal" text-anchor="start" textLength="27.6" lengthAdjust="spacingAndGlyphs" transform="translate(559.4,195.5) rotate(-90)"  stroke="#111" stroke-width="0.18">Ra3,2</text>
<line x1="546.5" y1="275.5" x2="701" y2="275.5" stroke="#777" stroke-width="0.8" />
<line x1="575" y1="378.7" x2="701" y2="378.7" stroke="#777" stroke-width="0.8" />
<line x1="696.2" y1="275.5" x2="696.2" y2="378.7" stroke="#777" stroke-width="0.8" />
<polygon points="696.20,275.50 698.20,282.90 696.20,281.60 694.20,282.90" fill="#111"/>
<polygon points="696.20,378.70 694.20,371.30 696.20,372.60 698.20,371.30" fill="#111"/>
<text x="0" y="0" font-size="11.2" fill="#111" font-style="italic" font-weight="normal" text-anchor="start" textLength="21.2" lengthAdjust="spacingAndGlyphs" transform="translate(692.3,351.7) rotate(-90)"  stroke="#111" stroke-width="0.18">43,3</text>
<text x="0" y="0" font-size="11.2" fill="#111" font-style="italic" font-weight="normal" text-anchor="start" textLength="19.5" lengthAdjust="spacingAndGlyphs" transform="translate(677.6,324.3) rotate(-90)"  stroke="#111" stroke-width="0.18">+0,2</text>
<path d="M638,300 L668.2,300 L682.5,275.7 L689.2,287 L676,287" fill="none" stroke="#777" stroke-width="0.8" />
<text x="636.2" y="289.2" font-size="11.2" fill="#111" font-style="italic" font-weight="normal" text-anchor="start" textLength="27.5" lengthAdjust="spacingAndGlyphs"  stroke="#111" stroke-width="0.18">Ra3,2</text>
<path d="M570,338.1 L570,308.8 L546.5,294.1 L558.6,287.3 L558.6,301.3" fill="none" stroke="#777" stroke-width="0.8" />
<text x="0" y="0" font-size="11.2" fill="#111" font-style="italic" font-weight="normal" text-anchor="start" textLength="26.7" lengthAdjust="spacingAndGlyphs" transform="translate(558.4,337.1) rotate(-90)"  stroke="#111" stroke-width="0.18">Ra3,2</text>
<line x1="513.7" y1="331.1" x2="513.7" y2="426" stroke="#777" stroke-width="0.8" />
<line x1="608.6" y1="331.1" x2="608.6" y2="426" stroke="#777" stroke-width="0.8" />
<line x1="513.7" y1="422" x2="608.6" y2="422" stroke="#777" stroke-width="0.8" />
<polygon points="513.70,422.00 521.10,420.00 519.80,422.00 521.10,424.00" fill="#111"/>
<polygon points="608.60,422.00 601.20,424.00 602.50,422.00 601.20,420.00" fill="#111"/>
<polygon points="608.8,419 614.6,422 608.8,425" fill="#111"/>
<line x1="614.6" y1="422" x2="619.4" y2="422" stroke="#777" stroke-width="0.8" />
<rect x="619.4" y="413.5" width="17.0" height="16.9" fill="none" stroke="#777" stroke-width="0.8"/>
<text x="624.6" y="426.6" font-size="11.2" fill="#111" font-style="italic" font-weight="normal" text-anchor="start" textLength="6.8" lengthAdjust="spacingAndGlyphs"  stroke="#111" stroke-width="0.18">A</text>
<g transform="translate(548.5,413.3)"><ellipse cx="0" cy="0" rx="3.7" ry="4.4" fill="none" stroke="#777" stroke-width="0.8" transform="skewX(-15)"/><line x1="-2.2" y1="6.5" x2="2.6" y2="-6.5" stroke="#777" stroke-width="0.8"/></g>
<text x="557" y="418" font-size="11.2" fill="#111" font-style="italic" font-weight="normal" text-anchor="start" textLength="30" lengthAdjust="spacingAndGlyphs"  stroke="#111" stroke-width="0.18">40 H7</text>
<text x="547" y="533.6" font-size="10.7" fill="#000" font-style="italic" font-weight="normal" text-anchor="start" textLength="4.9" lengthAdjust="spacingAndGlyphs" stroke="#000" stroke-width="0.2">1.</text>
<text x="558.9" y="533.6" font-size="10.7" fill="#000" font-style="italic" font-weight="normal" text-anchor="start" textLength="53.9" lengthAdjust="spacingAndGlyphs" stroke="#000" stroke-width="0.2">Улучшение</text>
<text x="620.9" y="533.6" font-size="10.7" fill="#000" font-style="italic" font-weight="normal" text-anchor="start" textLength="43.0" lengthAdjust="spacingAndGlyphs" stroke="#000" stroke-width="0.2">260...300</text>
<text x="669.9" y="533.6" font-size="10.7" fill="#000" font-style="italic" font-weight="normal" text-anchor="start" textLength="13.2" lengthAdjust="spacingAndGlyphs" stroke="#000" stroke-width="0.2">HB</text>
<text x="547" y="544.6" font-size="10.7" fill="#000" font-style="italic" font-weight="normal" text-anchor="start" textLength="6.3" lengthAdjust="spacingAndGlyphs" stroke="#000" stroke-width="0.2">2.</text>
<text x="559.6" y="544.6" font-size="10.7" fill="#000" font-style="italic" font-weight="normal" text-anchor="start" textLength="40.6" lengthAdjust="spacingAndGlyphs" stroke="#000" stroke-width="0.2">H14,h14,</text>
<text x="610.4" y="544.6" font-size="10.7" fill="#000" font-style="italic" font-weight="normal" text-anchor="start" textLength="32.5" lengthAdjust="spacingAndGlyphs" stroke="#000" stroke-width="0.2">IT14/2</text>
<text x="603.2" y="544.3" font-size="7.5" fill="#999" font-style="normal" font-weight="normal" text-anchor="start" textLength="5" lengthAdjust="spacingAndGlyphs" >±</text>
<text x="547" y="556.5" font-size="10.7" fill="#000" font-style="italic" font-weight="normal" text-anchor="start" textLength="6" lengthAdjust="spacingAndGlyphs" stroke="#000" stroke-width="0.2">3.</text>
<text x="560.3" y="556.5" font-size="10.7" fill="#000" font-style="italic" font-weight="normal" text-anchor="start" textLength="68.6" lengthAdjust="spacingAndGlyphs" stroke="#000" stroke-width="0.2">Неуказанные</text>
<text x="635.2" y="556.5" font-size="10.7" fill="#000" font-style="italic" font-weight="normal" text-anchor="start" textLength="37.4" lengthAdjust="spacingAndGlyphs" stroke="#000" stroke-width="0.2">радиусы</text>
<text x="683.8" y="556.5" font-size="10.7" fill="#000" font-style="italic" font-weight="normal" text-anchor="start" textLength="57.4" lengthAdjust="spacingAndGlyphs" stroke="#000" stroke-width="0.2">скруглений</text>
<text x="748.2" y="556.5" font-size="10.7" fill="#000" font-style="italic" font-weight="normal" text-anchor="start" textLength="19.6" lengthAdjust="spacingAndGlyphs" stroke="#000" stroke-width="0.2">3...5</text>
<text x="774.1" y="556.5" font-size="10.7" fill="#000" font-style="italic" font-weight="normal" text-anchor="start" textLength="12.6" lengthAdjust="spacingAndGlyphs" stroke="#000" stroke-width="0.2">мм</text>
<line x1="547.2" y1="563.5" x2="987.3" y2="563.5" stroke="#222" stroke-width="1"/>
<line x1="547.2" y1="563.5" x2="547.2" y2="694.3" stroke="#222" stroke-width="0.95" />
<line x1="564.7" y1="563.5" x2="564.7" y2="622.95" stroke="#222" stroke-width="0.9" />
<line x1="587.7" y1="563.5" x2="587.7" y2="694.3" stroke="#222" stroke-width="0.9" />
<line x1="642.6" y1="563.5" x2="642.6" y2="694.3" stroke="#222" stroke-width="0.9" />
<line x1="678.6" y1="563.5" x2="678.6" y2="694.3" stroke="#222" stroke-width="0.9" />
<line x1="702.4" y1="563.5" x2="702.4" y2="694.3" stroke="#222" stroke-width="0.9" />
<line x1="547.2" y1="575.39" x2="702.4" y2="575.39" stroke="#777" stroke-width="0.8" />
<line x1="547.2" y1="587.28" x2="702.4" y2="587.28" stroke="#777" stroke-width="0.8" />
<line x1="547.2" y1="599.17" x2="702.4" y2="599.17" stroke="#777" stroke-width="0.8" />
<line x1="547.2" y1="611.06" x2="702.4" y2="611.06" stroke="#222" stroke-width="0.95" />
<line x1="547.2" y1="622.95" x2="702.4" y2="622.95" stroke="#222" stroke-width="0.95" />
<line x1="547.2" y1="634.85" x2="702.4" y2="634.85" stroke="#777" stroke-width="0.8" />
<line x1="547.2" y1="646.74" x2="702.4" y2="646.74" stroke="#777" stroke-width="0.8" />
<line x1="547.2" y1="658.63" x2="702.4" y2="658.63" stroke="#777" stroke-width="0.8" />
<line x1="547.2" y1="670.52" x2="702.4" y2="670.52" stroke="#777" stroke-width="0.8" />
<line x1="547.2" y1="682.41" x2="702.4" y2="682.41" stroke="#777" stroke-width="0.8" />
<line x1="702.4" y1="599.17" x2="987.3" y2="599.17" stroke="#222" stroke-width="0.95" />
<line x1="702.4" y1="658.63" x2="987.3" y2="658.63" stroke="#222" stroke-width="0.95" />
<line x1="868.3" y1="599.17" x2="868.3" y2="694.3" stroke="#222" stroke-width="0.95" />
<line x1="868.3" y1="611.06" x2="987.3" y2="611.06" stroke="#222" stroke-width="0.9" />
<line x1="868.3" y1="646.74" x2="987.3" y2="646.74" stroke="#222" stroke-width="0.9" />
<line x1="904.3" y1="599.17" x2="904.3" y2="646.74" stroke="#222" stroke-width="0.9" />
<line x1="944.4" y1="599.17" x2="944.4" y2="646.74" stroke="#222" stroke-width="0.9" />
<line x1="916.3" y1="646.74" x2="916.3" y2="658.63" stroke="#222" stroke-width="0.9" />
<line x1="881" y1="611.06" x2="881" y2="646.74" stroke="#bbb" stroke-width="0.8" />
<line x1="892.4" y1="611.06" x2="892.4" y2="646.74" stroke="#bbb" stroke-width="0.8" />
<text x="547.7" y="619.7" font-size="9" fill="#111" font-style="italic" font-weight="normal" text-anchor="start" textLength="15.6" lengthAdjust="spacingAndGlyphs" >Изм</text>
<text x="566" y="619.7" font-size="9" fill="#111" font-style="italic" font-weight="normal" text-anchor="start" textLength="20.6" lengthAdjust="spacingAndGlyphs" >Лист</text>
<text x="595.4" y="619.7" font-size="9" fill="#111" font-style="italic" font-weight="normal" text-anchor="start" textLength="37.3" lengthAdjust="spacingAndGlyphs" >№ докум</text>
<text x="648.9" y="619.7" font-size="9" fill="#111" font-style="italic" font-weight="normal" text-anchor="start" textLength="19.8" lengthAdjust="spacingAndGlyphs" >Подп</text>
<text x="678.8" y="619.7" font-size="9" fill="#111" font-style="italic" font-weight="normal" text-anchor="start" textLength="22.4" lengthAdjust="spacingAndGlyphs" >Дата</text>
<text x="549.4" y="631.2" font-size="9" fill="#111" font-style="italic" font-weight="normal" text-anchor="start" textLength="31" lengthAdjust="spacingAndGlyphs" >Разраб.</text>
<text x="549.4" y="643" font-size="9" fill="#111" font-style="italic" font-weight="normal" text-anchor="start" textLength="20.3" lengthAdjust="spacingAndGlyphs" >Пров.</text>
<text x="549.4" y="654.5" font-size="9" fill="#111" font-style="italic" font-weight="normal" text-anchor="start" textLength="37.6" lengthAdjust="spacingAndGlyphs" >Т. контр.</text>
<text x="548.6" y="678.5" font-size="9" fill="#111" font-style="italic" font-weight="normal" text-anchor="start" textLength="38.4" lengthAdjust="spacingAndGlyphs" >Н. контр.</text>
<text x="549.4" y="690.2" font-size="9" fill="#111" font-style="italic" font-weight="normal" text-anchor="start" textLength="15.6" lengthAdjust="spacingAndGlyphs" >Утв.</text>
<text x="722.2" y="628.9" font-size="17" fill="#000" font-style="italic" font-weight="normal" text-anchor="start" textLength="49.8" lengthAdjust="spacingAndGlyphs"  stroke="#000" stroke-width="0.18">Колесо</text>
<text x="781" y="628.9" font-size="17" fill="#000" font-style="italic" font-weight="normal" text-anchor="start" textLength="69" lengthAdjust="spacingAndGlyphs"  stroke="#000" stroke-width="0.18">зубчатое</text>
<text x="727" y="686.8" font-size="11.5" fill="#000" font-style="italic" font-weight="normal" text-anchor="start" textLength="30.4" lengthAdjust="spacingAndGlyphs"  stroke="#000" stroke-width="0.18">Сталь</text>
<text x="764.5" y="686.8" font-size="11.5" fill="#000" font-style="italic" font-weight="normal" text-anchor="start" textLength="11.2" lengthAdjust="spacingAndGlyphs"  stroke="#000" stroke-width="0.18">45</text>
<text x="781.7" y="686.8" font-size="11.5" fill="#000" font-style="italic" font-weight="normal" text-anchor="start" textLength="24.3" lengthAdjust="spacingAndGlyphs"  stroke="#000" stroke-width="0.18">ГОСТ</text>
<text x="813.2" y="686.8" font-size="11.5" fill="#000" font-style="italic" font-weight="normal" text-anchor="start" textLength="38.6" lengthAdjust="spacingAndGlyphs"  stroke="#000" stroke-width="0.18">1050-88</text>
<text x="734" y="702.6" font-size="11.2" fill="#000" font-style="italic" font-weight="normal" text-anchor="start" textLength="54.5" lengthAdjust="spacingAndGlyphs"  stroke="#000" stroke-width="0.18">Копировал</text>
<text x="929.6" y="702.6" font-size="11.2" fill="#000" font-style="italic" font-weight="normal" text-anchor="start" textLength="40.0" lengthAdjust="spacingAndGlyphs"  stroke="#000" stroke-width="0.18">Формат</text>
<text x="975.2" y="702.6" font-size="11.2" fill="#000" font-style="italic" font-weight="normal" text-anchor="start" textLength="13.2" lengthAdjust="spacingAndGlyphs"  stroke="#000" stroke-width="0.18">А3</text>
<text x="878.5" y="607.8" font-size="9" fill="#111" font-style="italic" font-weight="normal" text-anchor="start" textLength="16.5" lengthAdjust="spacingAndGlyphs" >Лит.</text>
<text x="911.5" y="607.8" font-size="9" fill="#111" font-style="italic" font-weight="normal" text-anchor="start" textLength="24.5" lengthAdjust="spacingAndGlyphs" >Масса</text>
<text x="946.6" y="607.8" font-size="9" fill="#111" font-style="italic" font-weight="normal" text-anchor="start" textLength="37.4" lengthAdjust="spacingAndGlyphs" >Масштаб</text>
<text x="919.9" y="631.4" font-size="10.5" fill="#111" font-style="italic" font-weight="normal" text-anchor="start" textLength="12.4" lengthAdjust="spacingAndGlyphs"  stroke="#111" stroke-width="0.18">2,8</text>
<text x="960.1" y="631.4" font-size="10.5" fill="#000" font-style="italic" font-weight="normal" text-anchor="start" textLength="9.9" lengthAdjust="spacingAndGlyphs" stroke="#000" stroke-width="0.25">1:1</text>
<text x="872.5" y="655.3" font-size="9" fill="#111" font-style="italic" font-weight="normal" text-anchor="start" textLength="19.5" lengthAdjust="spacingAndGlyphs" >Лист</text>
<text x="902.2" y="656" font-size="10.5" fill="#000" font-style="italic" font-weight="normal" text-anchor="start" textLength="4.1" lengthAdjust="spacingAndGlyphs"  stroke="#000" stroke-width="0.18">1</text>
<text x="925" y="655.3" font-size="9" fill="#111" font-style="italic" font-weight="normal" text-anchor="start" textLength="29" lengthAdjust="spacingAndGlyphs" >Листов</text>
<text x="965.9" y="656" font-size="10.5" fill="#000" font-style="italic" font-weight="normal" text-anchor="start" textLength="4.1" lengthAdjust="spacingAndGlyphs"  stroke="#000" stroke-width="0.18">1</text>
</svg>
</body>
</html>
